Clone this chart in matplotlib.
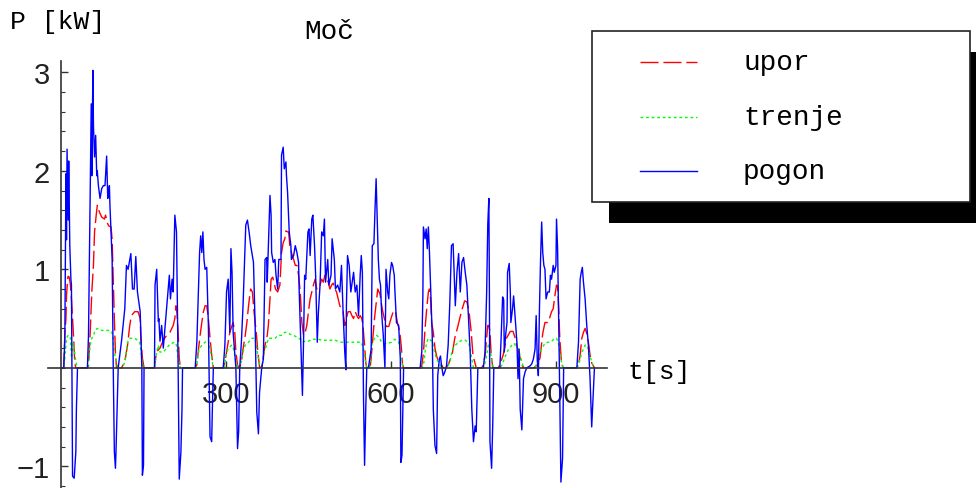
import matplotlib
matplotlib.use("Agg")
import matplotlib.pyplot as plt
from matplotlib.patches import Rectangle
from matplotlib.lines import Line2D
import numpy as np

# cas [s] in moc [kW], odcitano s slike
t_pogon = [0, 5, 7, 9, 10, 11, 13, 14, 16, 18, 19, 21, 24, 27, 28, 30,
           48, 50, 55, 56, 58, 59, 61, 63, 65, 66, 68, 71, 74, 77, 80, 83, 85, 86, 88, 89, 93, 95, 97, 99, 100, 102, 104,
           110, 116, 119, 122, 127, 130, 133, 136, 139, 144, 147, 148, 150, 151,
           170, 171, 174, 177, 178, 180, 183, 186, 192, 197, 199, 202, 204, 207, 210, 213, 215, 218, 220, 221,
           244, 247, 252, 254, 256, 258, 260, 262, 265, 268, 271, 274, 275, 277,
           295, 298, 301, 304, 307, 309, 311, 313, 318, 321, 323, 325,
           328, 331, 336, 339, 342, 345, 350, 353, 356, 359, 361, 365,
           368, 371, 374, 375, 377, 380, 382, 383, 386, 389, 391, 394, 396, 400, 401, 404, 406, 409, 410, 412,
           415, 418, 419, 423, 426, 429, 432, 433, 436, 439, 441, 443, 445, 449, 451, 453, 456, 458, 461, 463,
           466, 468, 471, 474, 477, 479, 481, 485, 487, 491, 493, 497, 499, 503, 507, 510, 513, 516, 518, 519,
           521, 524, 527, 532, 535, 538, 541, 544, 546, 548, 550, 552, 554, 556,
           559, 564, 566, 569, 571, 573, 575, 577, 579, 581, 583, 586, 589, 591, 594, 596, 598, 601, 603, 606,
           607, 610, 614, 617, 618, 620, 623,
           653, 656, 658, 659, 662, 664, 666, 668, 670, 672, 675, 677, 680, 683, 685, 688, 690, 692, 695, 698, 701, 704,
           707, 710, 713, 717, 720, 723, 726, 729, 732, 735, 738, 741, 744, 747, 750, 753, 755, 758,
           768, 771, 774, 776, 778, 779, 780, 783, 785, 787,
           798, 800, 803, 805, 806, 809, 811, 812, 815, 817, 818, 821, 823, 826, 829, 831, 833, 835, 838, 841, 844, 847,
           853, 856, 859, 862, 864, 866, 868, 870, 872, 874, 876, 878, 880, 882, 885, 888, 890, 892, 895, 897,
           900, 901, 903, 906, 908, 909, 912, 914,
           917, 938, 941, 944, 946, 948, 950, 953, 956, 959, 962, 965, 968, 970]
pogon = [0, 0, 0.3, 1.97, 1.3, 2.22, 1.5, 2.1, 1.24, 0.9, 0.84, -1.1, -1.12, -0.85, -0.42, 0,
         0, 0.33, 2.68, 1.95, 3.02, 2.46, 2.14, 2.36, 1.95, 2.0, 1.85, 1.72, 1.82, 1.85, 1.85, 2.15, 1.72, 1.75, 1.85, 1.65, 1.1, 0, -0.85, -1.02, -0.85, -0.42, 0,
         0.27, 0.6, 1.04, 1.0, 1.16, 0.8, 0.8, 1.13, 0.77, 0.57, 0, -1.09, -0.99, 0,
         0, 0.84, 1.0, 0.47, 0.5, 0.27, 0.43, 0.2, 0.6, 0.94, 0.70, 0.90, 0.77, 1.55, 1.38, 0, -1.13, -0.86, -0.42, 0,
         0, 0.26, 1.17, 1.34, 1.17, 1.38, 1.1, 1.0, 1.02, 0.43, -0.70, -0.75, -0.47, 0,
         0, 0.23, 0.77, 0.90, 0.36, 1.21, 0.97, 0.36, 0, -0.82, -0.65, 0,
         0.26, 0.63, 1.45, 1.5, 1.38, 1.24, 1.07, 0.43, -0.45, -0.67, -0.25, 0,
         0.09, 1.1, 1.12, 0.87, 1.21, 1.75, 1.55, 1.17, 1.07, 1.1, 0.94, 0.80, 1.1, 1.1, 2.16, 2.24, 2.02, 2.09, 1.95, 1.78,
         1.38, 1.24, 1.1, 1.14, 1.24, 1.17, 1.07, 0.80, 0.26, -0.28, 0.26, 0.94, 0.90, 1.38, 1.41, 1.14, 1.51, 1.55, 1.24, 0.94,
         0.26, 0.56, 0.84, 1.38, 1.34, 1.51, 0.87, 1.1, 0.84, 0.94, 1.31, 1.1, 0.80, 0.84, 0.77, 1.04, 0.56, 0.16, -0.02, 0.63,
         1.14, 1.04, 0.77, 0.97, 0.77, 0.84, 0.53, 0.94, 1.14, 0.97, -0.28, -0.99, -0.45, 0,
         0, 0.19, 1.24, 1.26, 1.61, 1.92, 1.51, 1.1, 0.9, 0.84, 0.56, 0.33, 0, 1.0, 0.77, 0.70, 0.94, 1.07, 1.04, 0.94,
         0.80, 0.46, 0.43, 0.09, -0.96, -0.89, 0,
         0, 0.16, 0.73, 1.43, 1.31, 1.41, 1.21, 1.43, 1.17, 0.84, 0.33, -0.42, -0.79, -0.87, -0.08, 0.09, 0.12, 0.02, -0.08, -0.04, 0.02, 0.23,
         0.66, 1.24, 1.26, 0.63, 0.97, 1.16, 0.77, 1.07, 1.12, 0.97, 0.84, 0.50, 0.16, -0.42, -0.75, -0.59, -0.65, 0,
         0, 0.16, 0.77, 1.45, 1.72, 0.77, -0.75, -1.02, -0.59, 0,
         0, 0.26, 0.72, 0.69, 0.16, 0.36, 0.46, 0.97, 1.06, 0.77, 0.46, 0.6, 0.73, 0.5, 0.26, -0.11, 0.19, -0.42, -0.63, -0.11, -0.04, 0,
         0.02, 0.04, 0.09, 0.19, 0.53, 0.09, -0.08, 0.6, 1.1, 1.48, 1.17, 1.04, 1.0, 0.70, 0.77, 0.77, 0.94, 0.90, 1.04, 0.97,
         1.04, 1.51, 1.21, 0.09, -0.75, -1.16, -0.92, 0,
         0, 0, 0.26, 0.9, 0.97, 1.02, 0.87, 0.70, 0.43, 0.23, -0.11, -0.6, -0.25, 0]

t_upor = [0, 5, 7, 9, 10, 12, 13, 15, 17, 19, 21, 23, 25, 27,
          48, 50, 53, 56, 59, 61, 64, 66, 67, 70, 74, 79, 81, 85, 87, 91, 93, 95, 97, 99, 101,
          110, 116, 121, 125, 128, 134, 140, 144, 145, 148, 151,
          170, 172, 175, 180, 186, 192, 198, 204, 207, 209, 211, 213, 215, 217,
          244, 247, 250, 253, 256, 259, 262, 265, 268, 271, 274, 277,
          295, 298, 301, 304, 307, 311, 313, 316, 318, 321, 323,
          325, 328, 331, 335, 338, 341, 344, 345, 348, 351, 355, 358, 361,
          365, 371, 375, 377, 380, 382, 385, 390, 394, 398, 401, 404, 407, 409, 412, 414, 416, 419, 423, 426,
          429, 432, 435, 438, 441, 444, 447, 450, 453, 456, 459, 462, 465, 468, 471, 474, 477, 480, 483, 486,
          489, 492, 495, 498, 501, 504, 507, 510, 513, 516, 519, 522, 526, 529, 532, 535, 538, 541, 544, 547,
          549, 552, 554, 556,
          562, 564, 567, 570, 573, 576, 580, 584, 588, 592, 596, 600, 604, 608, 612, 616, 619, 621, 623,
          653, 656, 659, 662, 665, 668, 670, 672, 674, 677, 680, 683, 686, 690, 695,
          700, 704, 711, 716, 722, 728, 734, 738, 742, 746, 749, 755,
          765, 768, 771, 774, 776, 778, 780, 782, 785,
          795, 798, 804, 810, 814, 817, 822, 826, 830, 835, 839, 842,
          860, 866, 871, 876, 880, 886, 892, 895, 898, 901, 903, 905, 907, 910, 913,
          938, 941, 944, 947, 950, 953, 956, 959, 962, 965, 970]
upor = [0, 0, 0.35, 0.5, 0.73, 0.9, 0.93, 0.92, 0.85, 0.7, 0.5, 0.3, 0.05, 0,
        0, 0.02, 0.35, 0.77, 1.04, 1.38, 1.55, 1.65, 1.63, 1.58, 1.53, 1.51, 1.55, 1.46, 1.44, 1.43, 1.3, 0.9, 0.5, 0.15, 0,
        0, 0.06, 0.23, 0.43, 0.53, 0.57, 0.57, 0.5, 0.33, 0.1, 0,
        0, 0.1, 0.17, 0.2, 0.28, 0.33, 0.36, 0.43, 0.5, 0.63, 0.55, 0.35, 0.1, 0,
        0, 0.03, 0.19, 0.33, 0.46, 0.57, 0.63, 0.63, 0.5, 0.3, 0.13, 0,
        0, 0.06, 0.16, 0.26, 0.36, 0.43, 0.46, 0.36, 0.16, 0.03, 0,
        0, 0.06, 0.19, 0.33, 0.46, 0.63, 0.77, 0.8, 0.77, 0.57, 0.36, 0.16, 0.01,
        0, 0.23, 0.33, 0.43, 0.7, 0.9, 0.92, 0.8, 0.77, 0.84, 1.17, 1.27, 1.31, 1.39, 1.38, 1.38, 1.24, 1.17, 1.1, 1.04,
        1.04, 0.94, 0.77, 0.46, 0.33, 0.36, 0.43, 0.57, 0.7, 0.77, 0.84, 0.9, 0.8, 0.8, 0.84, 0.9, 0.87, 0.94, 0.9, 0.87,
        0.8, 0.84, 0.86, 0.8, 0.77, 0.7, 0.63, 0.6, 0.57, 0.43, 0.5, 0.57, 0.57, 0.53, 0.5, 0.57, 0.53, 0.5, 0.53, 0.5,
        0.43, 0.23, 0.06, 0,
        0, 0.1, 0.3, 0.5, 0.65, 0.8, 0.75, 0.6, 0.5, 0.42, 0.42, 0.5, 0.57, 0.58, 0.45, 0.37, 0.2, 0.03, 0,
        0, 0.02, 0.15, 0.4, 0.6, 0.77, 0.8, 0.7, 0.46, 0.36, 0.2, 0.12, 0.07, 0.05, 0,
        0, 0.03, 0.13, 0.3, 0.43, 0.57, 0.68, 0.67, 0.57, 0.36, 0.13, 0,
        0, 0.03, 0.12, 0.3, 0.43, 0.43, 0.37, 0.15, 0,
        0, 0.03, 0.13, 0.3, 0.34, 0.37, 0.37, 0.3, 0.2, 0.1, 0.02, 0,
        0, 0.03, 0.1, 0.35, 0.46, 0.46, 0.57, 0.6, 0.73, 0.84, 0.83, 0.6, 0.3, 0.05, 0,
        0, 0.03, 0.13, 0.3, 0.36, 0.4, 0.35, 0.26, 0.13, 0.05, 0]

t_trenje = [0, 5, 7, 10, 13, 17, 19, 22, 24, 26, 29,
            48, 50, 53, 56, 59, 62, 66, 70, 74, 80, 86, 92, 95, 97, 100, 103,
            112, 116, 121, 125, 131, 137, 143, 146, 149,
            170, 174, 177, 180, 186, 192, 198, 202, 207, 210, 213, 217,
            246, 251, 256, 262, 268, 271, 274, 277,
            297, 301, 304, 310, 314, 317, 321,
            326, 331, 335, 341, 347, 353, 356, 359, 362,
            365, 369, 374, 377, 383, 389, 395, 401, 407, 411, 417, 423, 429, 435, 439, 444, 450, 456, 462, 468,
            474, 480, 486, 492, 498, 504, 510, 516, 522, 528, 534, 540, 546, 550, 553, 556,
            561, 563, 565, 569, 574, 578, 583, 589, 595, 601, 607, 614, 617, 620, 623,
            657, 660, 662, 665, 668, 672, 676, 679, 683, 689, 693,
            702, 707, 712, 717, 723, 729, 735, 741, 744, 747, 750,
            768, 771, 774, 777, 780, 783, 786,
            798, 802, 808, 814, 820, 823, 826, 832, 835, 838, 841,
            862, 866, 871, 874, 880, 886, 892, 898, 901, 904, 907, 910, 913,
            938, 941, 944, 947, 950, 953, 956, 959, 962, 965, 968, 970]
trenje = [0, 0, 0.1, 0.3, 0.33, 0.32, 0.1, 0.25, 0.2, 0.1, 0,
          0, 0.05, 0.23, 0.3, 0.33, 0.38, 0.4, 0.39, 0.38, 0.38, 0.38, 0.37, 0.3, 0.16, 0.08, 0,
          0, 0.06, 0.26, 0.3, 0.3, 0.29, 0.26, 0.15, 0,
          0, 0.16, 0.23, 0.16, 0.16, 0.2, 0.24, 0.25, 0.26, 0.23, 0.09, 0,
          0, 0.19, 0.23, 0.26, 0.28, 0.2, 0.09, 0,
          0, 0.16, 0.19, 0.23, 0.19, 0.09, 0,
          0, 0.16, 0.23, 0.26, 0.3, 0.3, 0.2, 0.09, 0,
          0, 0.16, 0.23, 0.3, 0.3, 0.3, 0.33, 0.33, 0.36, 0.36, 0.34, 0.33, 0.31, 0.29, 0.26, 0.27, 0.27, 0.29, 0.29, 0.29,
          0.28, 0.28, 0.28, 0.28, 0.28, 0.27, 0.26, 0.26, 0.26, 0.26, 0.26, 0.26, 0.26, 0.2, 0.09, 0,
          0, 0.1, 0.23, 0.29, 0.33, 0.31, 0.26, 0.25, 0.25, 0.26, 0.29, 0.26, 0.16, 0.05, 0,
          0, 0.06, 0.16, 0.26, 0.3, 0.28, 0.26, 0.16, 0.09, 0.03, 0,
          0, 0.06, 0.19, 0.23, 0.26, 0.28, 0.28, 0.26, 0.19, 0.09, 0,
          0, 0.05, 0.13, 0.23, 0.19, 0.09, 0,
          0, 0.03, 0.12, 0.19, 0.23, 0.25, 0.23, 0.19, 0.12, 0.06, 0,
          0, 0.06, 0.16, 0.19, 0.25, 0.26, 0.27, 0.3, 0.3, 0.26, 0.16, 0.06, 0,
          0, 0.03, 0.09, 0.16, 0.19, 0.23, 0.23, 0.19, 0.12, 0.06, 0.02, 0]

series_names = ["upor", "trenje", "pogon"]
x_ticks = [300, 600, 900]
y_ticks = [-1, 1, 2, 3]

W, H = 976, 489
mono = "Liberation Mono"
fig = plt.figure(figsize=(W / 100, H / 100), dpi=100)
ax = fig.add_axes([47.8 / W, 0.0, 559.3 / W, 427.5 / H])
ax.set_xlim(-24, 993)
ax.set_ylim(-1.22, 3.12)

ax.plot(t_upor, upor, color=(1, 0, 0), lw=1.0, dashes=(13, 3.5))
ax.plot(t_trenje, trenje, color=(0, 1, 0), lw=1.0, dashes=(2, 2))
ax.plot(t_pogon, pogon, color=(0, 0, 1), lw=1.0)

for s in ["top", "right"]:
    ax.spines[s].set_visible(False)
ax.spines["left"].set_position(("data", 0))
ax.spines["bottom"].set_position(("data", 0))
for s in ["left", "bottom"]:
    ax.spines[s].set_color("#333333")
    ax.spines[s].set_linewidth(1.2)
ax.set_xticks(x_ticks)
ax.set_xticklabels([str(v) for v in x_ticks])
ax.set_yticks(y_ticks)
ax.set_yticklabels(["\u22121" if v < 0 else str(v) for v in y_ticks])
ax.set_yticks([v for v in np.round(np.arange(-1.2, 3.01, 0.2), 1) if v not in y_ticks], minor=True)
ax.tick_params(axis="both", which="major", direction="in", length=5, width=1, colors="#333333",
               labelsize=21, labelcolor="#222222")
ax.tick_params(axis="x", pad=9)
ax.tick_params(axis="y", pad=8)
ax.tick_params(axis="y", which="minor", direction="in", length=3, width=0.8, colors="#333333")
for lab in ax.get_xticklabels() + ax.get_yticklabels():
    lab.set_fontfamily("Liberation Sans")

fig.text(10 / W, 1 - 22 / H, "P [kW]", family=mono, fontsize=19, ha="left", va="center")
fig.text(329 / W, 1 - 32 / H, "Moč", family=mono, fontsize=20, ha="center", va="center")
fig.text(628 / W, 1 - 372 / H, "t[s]", family=mono, fontsize=19, ha="left", va="center")

# legenda s senco
fig.add_artist(Rectangle((609 / W, 1 - 224 / H), 380 / W, 171 / H, transform=fig.transFigure,
                         facecolor="black", edgecolor="none"))
fig.add_artist(Rectangle((592 / W, 1 - 203 / H), 378 / W, 171 / H, transform=fig.transFigure,
                         facecolor="white", edgecolor="#222222", lw=1.2))
leg_y = [63, 118, 172]
leg_style = [dict(color=(1, 0, 0), dashes=(13, 3.5)), dict(color=(0, 1, 0), dashes=(2, 2)), dict(color=(0, 0, 1))]
for name, yy, st in zip(series_names, leg_y, leg_style):
    fig.add_artist(Line2D([640 / W, 697 / W], [1 - yy / H, 1 - yy / H], transform=fig.transFigure, lw=1.0, **st))
    fig.text(743 / W, 1 - yy / H, name, family=mono, fontsize=20, ha="left", va="center")

fig.savefig("out.png", dpi=100)
